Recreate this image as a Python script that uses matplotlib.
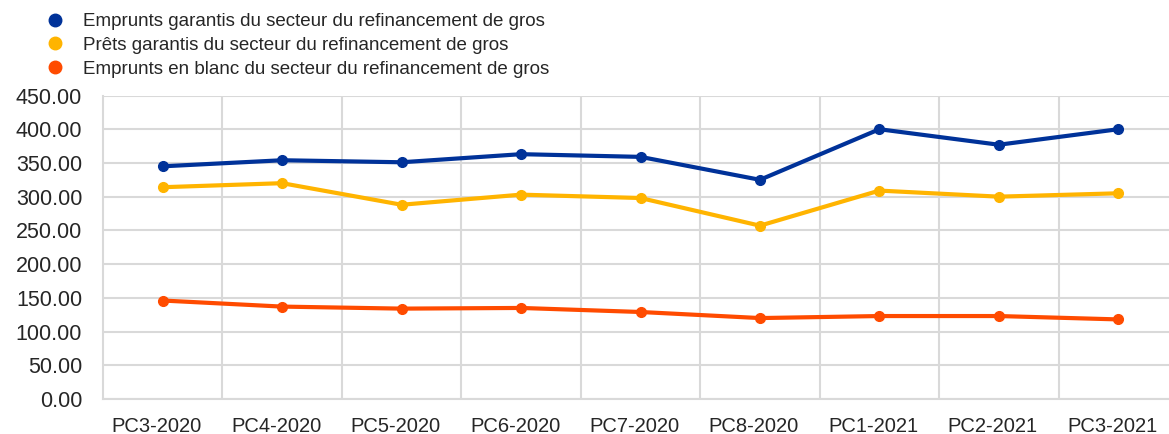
import matplotlib
matplotlib.use("Agg")
import matplotlib.pyplot as plt
import matplotlib.transforms as mtransforms
from matplotlib.lines import Line2D

plt.rcParams['font.family'] = ['Liberation Sans', 'DejaVu Sans']

periodes = ["PC3-2020", "PC4-2020", "PC5-2020", "PC6-2020", "PC7-2020",
            "PC8-2020", "PC1-2021", "PC2-2021", "PC3-2021"]
emprunts_garantis = [345, 354, 351, 363, 359, 325, 400, 377, 400]
prets_garantis = [314, 320, 288, 303, 298, 257, 309, 300, 305]
emprunts_blanc = [146, 137, 134, 135, 129, 120, 123, 123, 118]

noms = ["Emprunts garantis du secteur du refinancement de gros",
        "Prêts garantis du secteur du refinancement de gros",
        "Emprunts en blanc du secteur du refinancement de gros"]
couleurs = ["#003299", "#FFB400", "#FF4B00"]
yticks = [0, 50, 100, 150, 200, 250, 300, 350, 400, 450]

fig = plt.figure(figsize=(11.69, 4.34), dpi=100)
ax = fig.add_axes([103/1169, 35/434, 1075/1169, 303.5/434])

x = range(len(periodes))
for serie, coul in zip([emprunts_garantis, prets_garantis, emprunts_blanc], couleurs):
    ax.plot(x, serie, color=coul, linewidth=3, marker="o", markersize=7,
            solid_capstyle="round", zorder=3)

ax.set_xlim(-0.5, len(periodes) - 0.5)
ax.set_ylim(0, 450)
ax.set_yticks(yticks)
ax.set_yticklabels(["%.2f" % v for v in yticks])
ax.set_xticks(x)
ax.set_xticklabels(periodes)
ax.set_xticks([i + 0.5 for i in range(len(periodes) - 1)], minor=True)

ax.grid(False)
ax.yaxis.grid(True, color="#d9d9d9", linewidth=1.5)
ax.xaxis.grid(True, which="minor", color="#d9d9d9", linewidth=1.5)
for s in ["top", "right"]:
    ax.spines[s].set_visible(False)
for s in ["left", "bottom"]:
    ax.spines[s].set_color("#d9d9d9")
    ax.spines[s].set_linewidth(1.5)
ax.tick_params(axis="both", which="both", length=0, labelcolor="#262626")
ax.tick_params(axis="x", labelsize=14.5, pad=13)
ax.tick_params(axis="y", labelsize=15.5, pad=15)

# les étiquettes de l'axe x sont un peu décalées vers la gauche
decalage = mtransforms.ScaledTranslation(-6/100, 0, fig.dpi_scale_trans)
for lab in ax.get_xticklabels():
    lab.set_transform(lab.get_transform() + decalage)

handles = [Line2D([], [], color=c, marker="o", linestyle="none", markersize=9) for c in couleurs]
fig.legend(handles, noms, loc="upper left", bbox_to_anchor=(44/1169, 1 - 13/434),
           frameon=False, fontsize=13.5, handlelength=1.2, handletextpad=0.9,
           labelspacing=0.36, borderpad=0, borderaxespad=0, labelcolor="#262626")

fig.savefig("out.png", dpi=100)
